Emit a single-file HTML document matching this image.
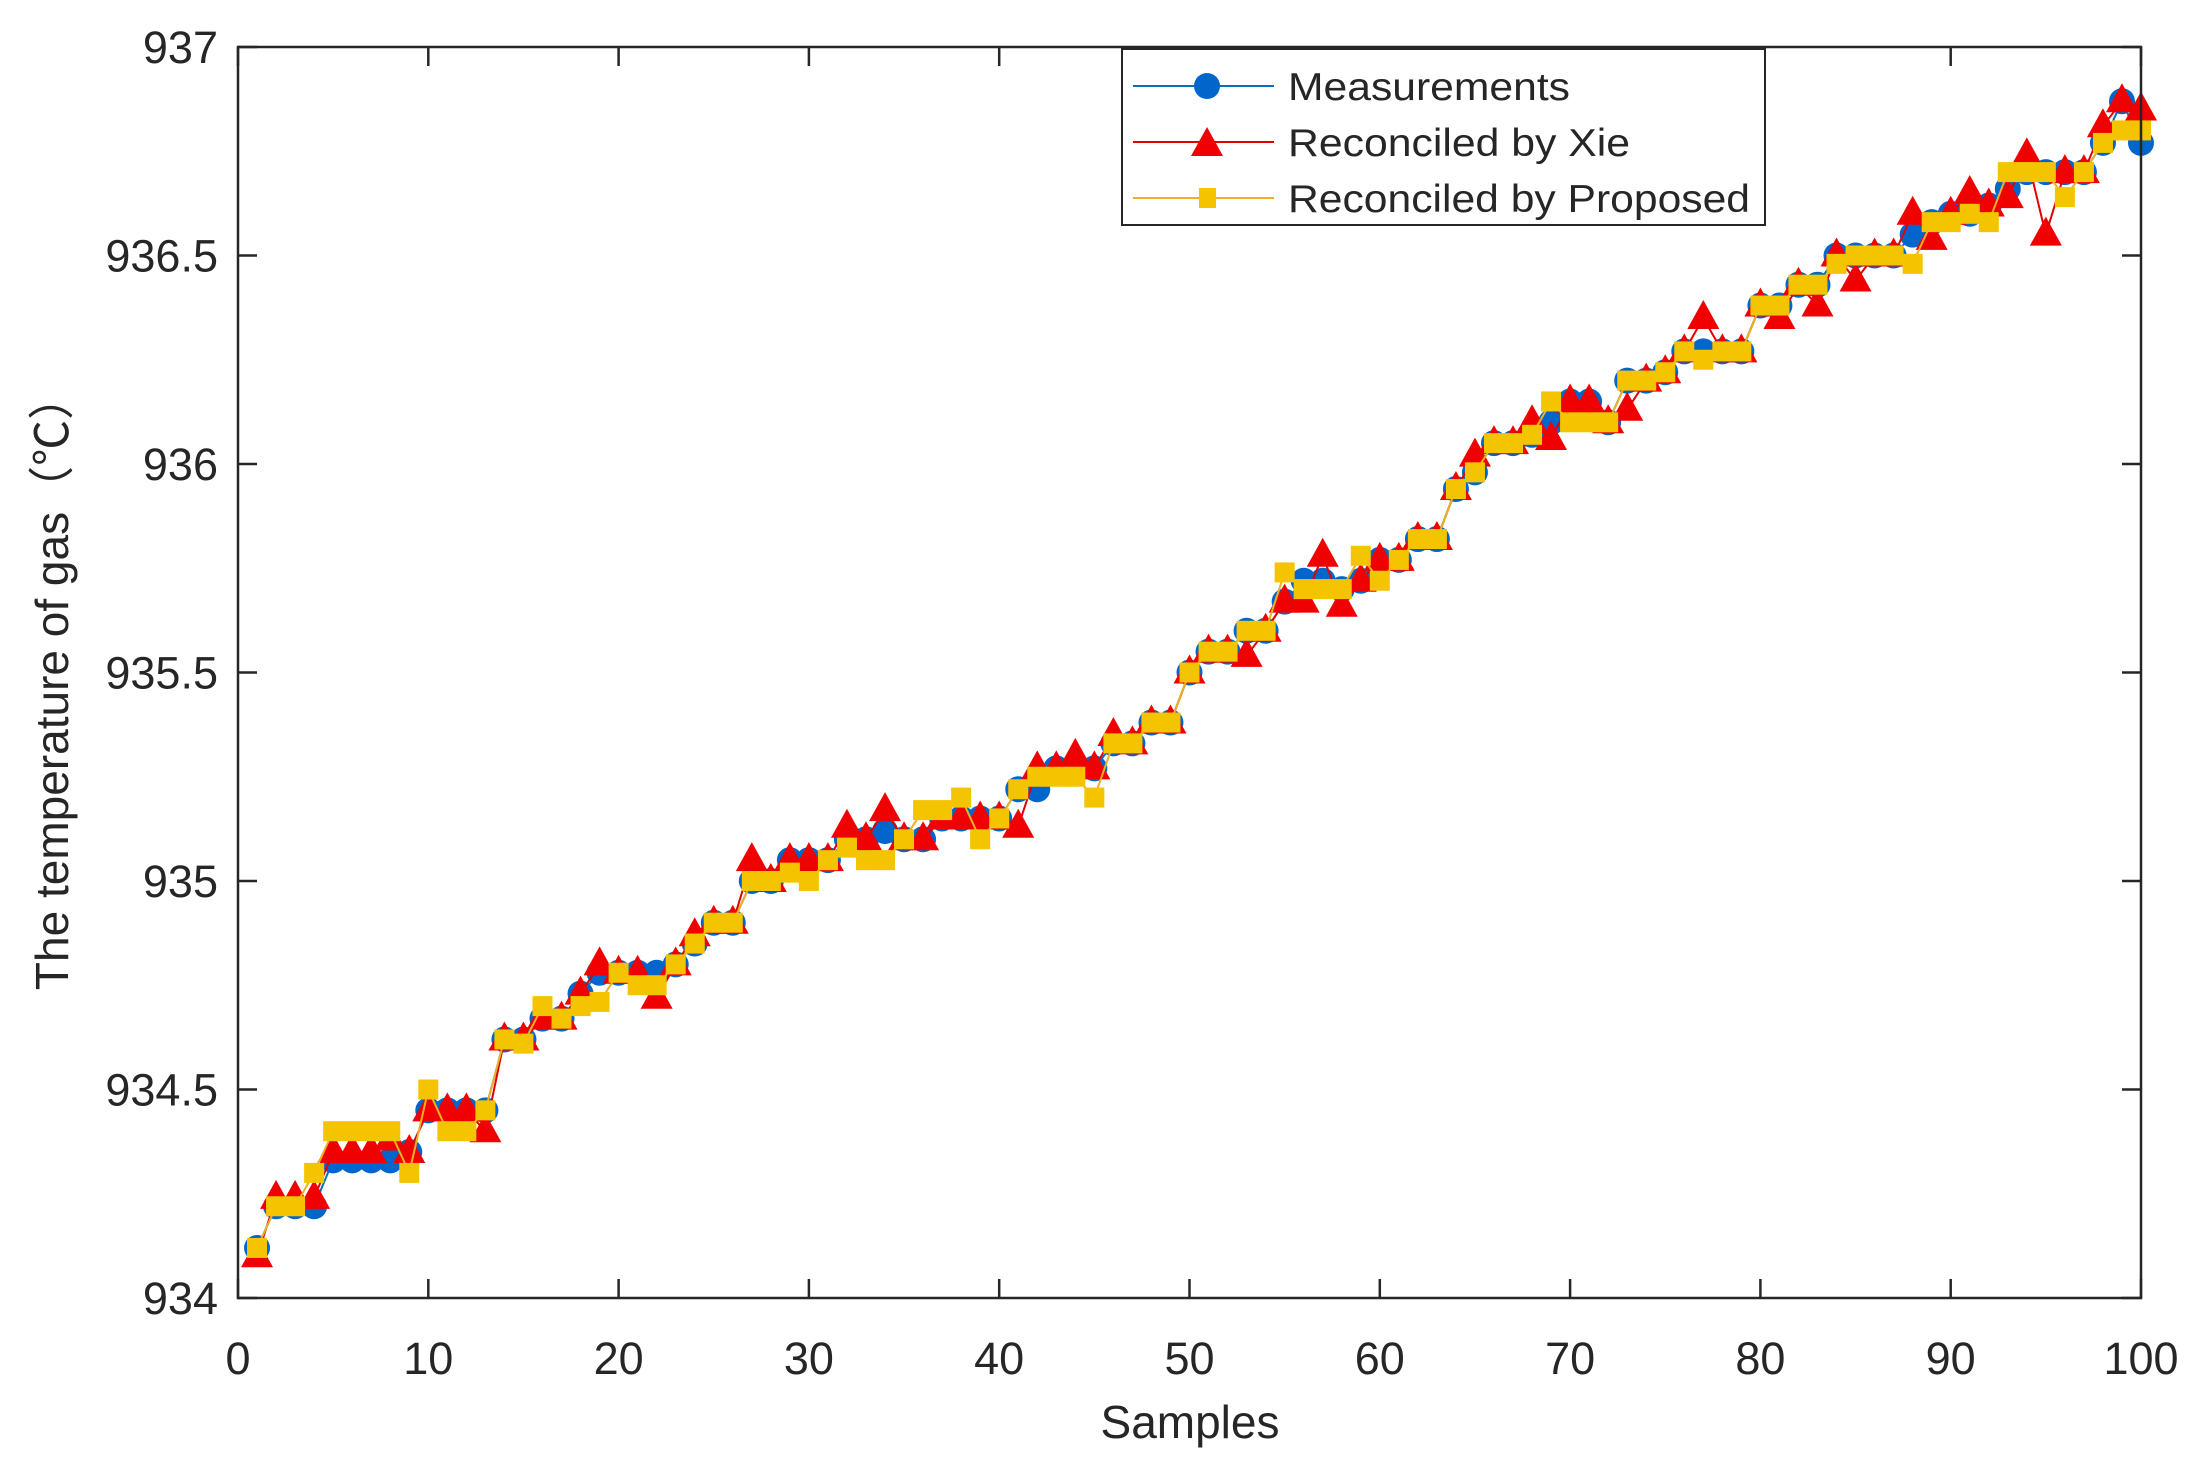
<!DOCTYPE html>
<html><head><meta charset="utf-8"><style>
html,body{margin:0;padding:0;background:#fff;}
svg{display:block;}
text{font-family:"Liberation Sans","Noto Sans CJK SC",sans-serif;fill:#262626;}
</style></head><body>
<svg id="s" width="2205" height="1481" xmlns="http://www.w3.org/2000/svg">
<rect width="2205" height="1481" fill="#fff"/>
<g id="data"></g>
<g stroke="#262626" stroke-width="2.5" fill="none">
<rect x="238" y="47" width="1903" height="1251"/>
</g>
<g id="ticks" stroke="#262626" stroke-width="2.5"></g>
<g id="labels" font-size="45"></g>
<text x="1190" y="1438" font-size="46" text-anchor="middle">Samples</text>
<text transform="translate(68,682) rotate(-90)" font-size="46" text-anchor="middle">The temperature of gas（℃）</text>
<g>
<rect x="1122" y="49" width="643" height="176" fill="#fff" stroke="#262626" stroke-width="2"/>
<line x1="1133" y1="86" x2="1274" y2="86" stroke="#0072BD" stroke-width="2"/>
<circle cx="1207" cy="86" r="13" fill="#0066CC"/>
<line x1="1133" y1="142" x2="1274" y2="142" stroke="#E00000" stroke-width="2"/>
<polygon points="1207,127 1223,156 1191,156" fill="#F00000"/>
<line x1="1133" y1="198" x2="1274" y2="198" stroke="#EDB120" stroke-width="2"/>
<rect x="1199" y="188" width="17" height="20" fill="#F5C400"/>
<text x="1288" y="100" font-size="39" textLength="282" lengthAdjust="spacingAndGlyphs">Measurements</text>
<text x="1288" y="156" font-size="39" textLength="342" lengthAdjust="spacingAndGlyphs">Reconciled by Xie</text>
<text x="1288" y="212" font-size="39" textLength="462" lengthAdjust="spacingAndGlyphs">Reconciled by Proposed</text>
</g>
</svg>
<script>
var L=238,R=2141,T=47,B=1298;
function X(i){return L+(R-L)*i/100;}
function Y(v){return B-(v-934)*(B-T)/3;}
var m=[934.12,934.22,934.22,934.22,934.33,934.33,934.33,934.33,934.35,934.45,934.45,934.45,934.45,934.62,934.62,934.67,934.67,934.73,934.78,934.78,934.78,934.78,934.8,934.85,934.9,934.9,935.0,935.0,935.05,935.05,935.05,935.1,935.1,935.12,935.1,935.1,935.15,935.15,935.15,935.15,935.22,935.22,935.27,935.27,935.27,935.33,935.33,935.38,935.38,935.5,935.55,935.55,935.6,935.6,935.67,935.72,935.72,935.7,935.72,935.77,935.77,935.82,935.82,935.94,935.98,936.05,936.05,936.07,936.1,936.15,936.15,936.1,936.2,936.2,936.22,936.27,936.27,936.27,936.27,936.38,936.38,936.43,936.43,936.5,936.5,936.5,936.5,936.55,936.58,936.6,936.6,936.62,936.66,936.7,936.7,936.7,936.7,936.77,936.87,936.77];
var x=m.slice(),p=m.slice();
var xo={1:934.1,2:934.24,3:934.24,4:934.24,5:934.35,6:934.35,7:934.35,8:934.38,13:934.4,19:934.8,22:934.72,24:934.87,27:935.05,32:935.13,34:935.17,41:935.13,42:935.27,44:935.3,46:935.35,53:935.54,56:935.67,57:935.78,58:935.66,65:936.02,68:936.1,69:936.06,73:936.13,77:936.35,81:936.35,83:936.38,85:936.44,88:936.6,89:936.54,91:936.65,93:936.64,94:936.74,95:936.55,98:936.81,100:936.85};
var po={3:934.22,4:934.3,5:934.4,6:934.4,7:934.4,8:934.4,9:934.3,10:934.5,11:934.4,12:934.4,15:934.61,16:934.7,18:934.7,19:934.71,21:934.75,22:934.75,23:934.8,29:935.02,30:935.0,31:935.05,32:935.08,33:935.05,34:935.05,35:935.1,36:935.17,37:935.17,38:935.2,39:935.1,40:935.15,42:935.25,43:935.25,44:935.25,45:935.2,55:935.74,56:935.7,57:935.7,58:935.7,59:935.78,60:935.72,69:936.15,70:936.1,71:936.1,72:936.1,77:936.25,78:936.27,81:936.38,84:936.48,88:936.48,90:936.58,92:936.58,93:936.7,96:936.64,98:936.77,99:936.8,100:936.8};
for(var k in xo)x[k-1]=xo[k];
for(var k in po)p[k-1]=po[k];
var h='';
function line(a,c){var s='';for(var i=0;i<100;i++)s+=X(i+1).toFixed(1)+','+Y(a[i]).toFixed(1)+' ';return '<polyline points="'+s+'" fill="none" stroke="'+c+'" stroke-width="2"/>';}
h+=line(m,'#0072BD');
for(var i=0;i<100;i++)h+='<circle cx="'+X(i+1)+'" cy="'+Y(m[i])+'" r="13" fill="#0066CC"/>';
h+=line(x,'#E00000');
for(var i=0;i<100;i++){var cx=X(i+1),cy=Y(x[i]);h+='<polygon points="'+cx+','+(cy-18)+' '+(cx+16)+','+(cy+11)+' '+(cx-16)+','+(cy+11)+'" fill="#F00000"/>';}
h+=line(p,'#EDB120');
for(var i=0;i<100;i++)h+='<rect x="'+(X(i+1)-10)+'" y="'+(Y(p[i])-10)+'" width="20" height="20" fill="#F5C400"/>';
document.getElementById('data').innerHTML=h;
var t='',lb='';
for(var i=0;i<=10;i++){var xx=X(i*10);t+='<line x1="'+xx+'" y1="'+B+'" x2="'+xx+'" y2="'+(B-19)+'"/><line x1="'+xx+'" y1="'+T+'" x2="'+xx+'" y2="'+(T+19)+'"/>';lb+='<text x="'+xx+'" y="1374" text-anchor="middle">'+(i*10)+'</text>';}
for(var j=0;j<=6;j++){var v=934+j*0.5,yy=Y(v);t+='<line x1="'+L+'" y1="'+yy+'" x2="'+(L+19)+'" y2="'+yy+'"/><line x1="'+R+'" y1="'+yy+'" x2="'+(R-19)+'" y2="'+yy+'"/>';lb+='<text x="218" y="'+(yy+16)+'" text-anchor="end">'+(j%2?v.toFixed(1):v)+'</text>';}
document.getElementById('ticks').innerHTML=t;
document.getElementById('labels').innerHTML=lb;
</script>
</body></html>
